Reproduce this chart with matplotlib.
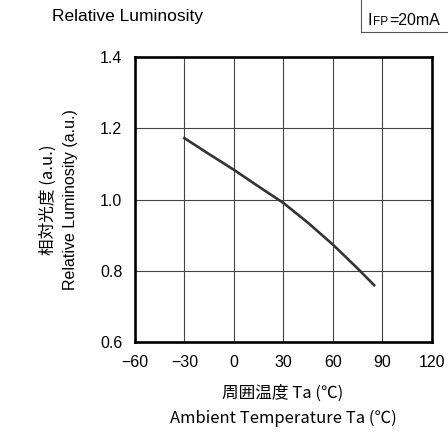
import matplotlib
matplotlib.use("Agg")
import matplotlib.pyplot as plt
from matplotlib.patches import Rectangle

# data
temp = [-30, -15, 0, 15, 30, 45, 60, 75, 85]
lum = [1.173, 1.128, 1.084, 1.037, 0.991, 0.935, 0.874, 0.807, 0.760]

xticks = [-60, -30, 0, 30, 60, 90, 120]
yticks = [0.6, 0.8, 1.0, 1.2, 1.4]

latin = ['Liberation Sans', 'DejaVu Sans']
cjk = ['Noto Sans CJK JP', 'DejaVu Sans']
plt.rcParams['font.family'] = latin

fig = plt.figure(figsize=(4.48, 4.37), dpi=100)
ax = fig.add_axes([0.301, 0.217, 0.663, 0.652])

ax.plot(temp, lum, color='#333333', lw=1.9)

ax.set_xlim(-60, 120)
ax.set_ylim(0.6, 1.4)
ax.set_xticks(xticks)
ax.set_yticks(yticks)
ax.set_xticklabels(['\u221260', '\u221230', '0', '30', '60', '90', '120'])
ax.set_yticklabels(['0.6', '0.8', '1.0', '1.2', '1.4'])
ax.tick_params(length=0, labelsize=11.5, pad=9)
ax.grid(True, color='#444444', lw=0.8)
for s in ax.spines.values():
    s.set_linewidth(1.9)
    s.set_color('black')

fig.text(283 / 448, 1 - 393 / 437, '周囲温度 Ta (℃)', ha='center', va='center',
         fontsize=12, family=cjk)
fig.text(283 / 448, 1 - 418 / 437, 'Ambient Temperature Ta (℃)', ha='center', va='center',
         fontsize=12, family=cjk)
fig.text(48 / 448, 1 - 200 / 437, '相対光度 (a.u.)', rotation=90, ha='center', va='center',
         fontsize=12, family=cjk)
fig.text(70 / 448, 1 - 200 / 437, 'Relative Luminosity (a.u.)', rotation=90, ha='center',
         va='center', fontsize=11.5)

fig.text(52 / 448, 1 - 16 / 437, 'Relative Luminosity', ha='left', va='center', fontsize=12.5)

# condition box at top right (cut off by figure edge)
fig.patches.append(Rectangle((361 / 448, 1 - 32 / 437), 0.3, 0.2, transform=fig.transFigure,
                             fill=False, edgecolor='#555555', lw=0.8))
fig.text(367 / 448, 1 - 25 / 437, 'I', ha='left', va='baseline', fontsize=11.5)
fig.text(373 / 448, 1 - 25 / 437, 'FP', ha='left', va='baseline', fontsize=8.5)
fig.text(389 / 448, 1 - 25 / 437, '=20mA', ha='left', va='baseline', fontsize=11.5)

fig.savefig('out.png', dpi=100)
